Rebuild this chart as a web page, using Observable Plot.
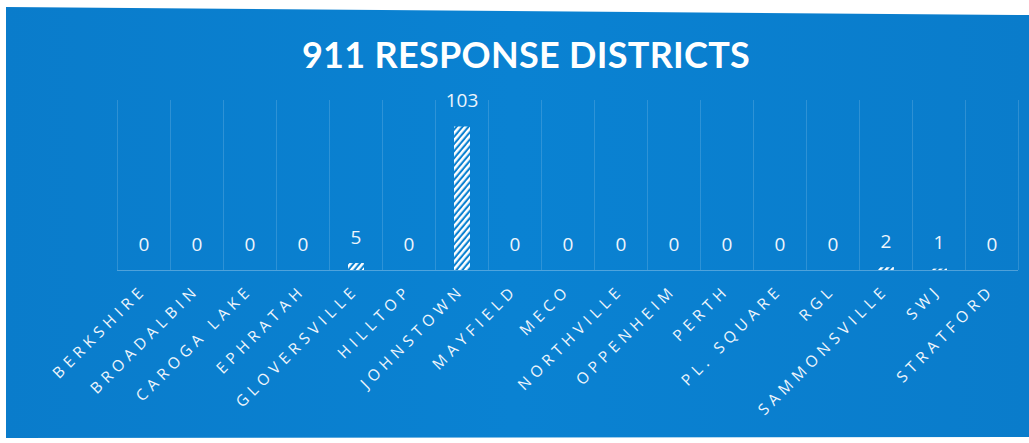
<!DOCTYPE html>
<html>
<head>
<meta charset="utf-8">
<script src="https://cdn.jsdelivr.net/npm/d3@7"></script>
<script src="https://cdn.jsdelivr.net/npm/@observablehq/plot@0.6"></script>
<style>
  html, body { margin: 0; padding: 0; background: #ffffff; width: 1029px; height: 443px; overflow: hidden; }
  #panel {
    position: absolute; left: 0; top: 0; width: 1029px; height: 443px;
    background: linear-gradient(90deg, #0a7ccb 0%, #0a82d2 50%, #0a7ccb 100%);
    clip-path: polygon(6px 7px, 1029px 15px, 1029px 437px, 6px 438px);
  }
  #title {
    position: absolute; left: 26px; top: 32px; width: 1000px; text-align: center;
    font-family: Lato, "Open Sans", sans-serif; font-weight: 700; font-size: 36px;
    color: #ffffff; letter-spacing: 0.3px;
  }
  #chart { position: absolute; left: 7px; top: 70px; }
  g[aria-label="x-axis tick label"] text { letter-spacing: 5px; }
</style>
</head>
<body>
<div id="panel"></div>
<div id="title">911 RESPONSE DISTRICTS</div>
<div id="chart"></div>
<script>
const districts = ["BERKSHIRE","BROADALBIN","CAROGA LAKE","EPHRATAH","GLOVERSVILLE","HILLTOP","JOHNSTOWN","MAYFIELD","MECO","NORTHVILLE","OPPENHEIM","PERTH","PL. SQUARE","RGL","SAMMONSVILLE","SWJ","STRATFORD"];
const responses = [0,0,0,0,5,0,103,0,0,0,0,0,0,0,2,1,0];

const data = districts.map((d, i) => ({district: d, value: responses[i]}));

const W = 1022, H = 368, ML = 110, MR = 11, MT = 30, MB = 168;
const bw = (W - ML - MR) / districts.length;

const chart = Plot.plot({
  width: W, height: H,
  marginLeft: ML, marginRight: MR, marginTop: MT, marginBottom: MB,
  style: {background: "transparent", color: "#eef5fc", fontFamily: "'Open Sans', sans-serif"},
  x: {domain: districts, padding: 0, label: null},
  y: {domain: [0, 122], axis: null},
  marks: [
    Plot.ruleX(districts, {x: d => d, y1: 0, y2: 122, dx: -bw / 2, stroke: "#ffffff", strokeOpacity: 0.15}),
    Plot.ruleX(districts.slice(-1), {x: d => d, y1: 0, y2: 122, dx: bw / 2, stroke: "#ffffff", strokeOpacity: 0.15}),
    Plot.ruleY([0], {stroke: "#ffffff", strokeOpacity: 0.28}),
    Plot.barY(data, {x: "district", y: "value", fill: "url(#hatch)", insetLeft: 19, insetRight: 18}),
    Plot.text(data, {x: "district", y: "value", text: d => String(d.value), dy: -26, fill: "#eef5fc", fontSize: 19}),
    Plot.axisX({tickRotate: -45, tickSize: 0, tickPadding: 17, fontSize: 15.5, fill: "#eef5fc", label: null})
  ]
});

const ns = "http://www.w3.org/2000/svg";
const defs = document.createElementNS(ns, "defs");
const pat = document.createElementNS(ns, "pattern");
pat.setAttribute("id", "hatch");
pat.setAttribute("patternUnits", "userSpaceOnUse");
pat.setAttribute("width", "4.6");
pat.setAttribute("height", "10");
pat.setAttribute("patternTransform", "rotate(40)");
const stripe = document.createElementNS(ns, "rect");
stripe.setAttribute("x", "0"); stripe.setAttribute("y", "0");
stripe.setAttribute("width", "2.5"); stripe.setAttribute("height", "10");
stripe.setAttribute("fill", "#ffffff");
pat.appendChild(stripe);
defs.appendChild(pat);
chart.insertBefore(defs, chart.firstChild);

document.getElementById("chart").appendChild(chart);
</script>
</body>
</html>
